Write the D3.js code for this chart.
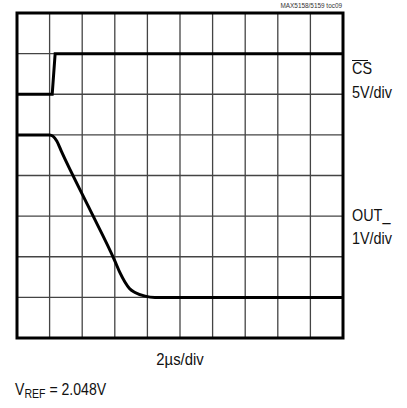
<!DOCTYPE html>
<html>
<head>
<meta charset="utf-8">
<script src="https://cdn.jsdelivr.net/npm/d3@7"></script>
<style>
  body { margin: 0; background: #fff; }
  svg text { font-family: "Liberation Sans", Arial, sans-serif; fill: #111; }
</style>
</head>
<body>
<div id="chart"></div>
<script>
// Scope grid: 10 horizontal divisions, 8 vertical divisions
const xDivs = d3.range(0, 11);
const yDivs = d3.range(0, 9);

// CS trace (time in div, level in div from bottom)
const csTime = [0, 1.08, 1.17, 10];
const csLevel = [6, 6, 7, 7];

// OUT_ trace
const outTime = [0, 1.0, 1.1, 1.22, 1.37, 2.2, 3.0, 3.15, 3.31, 3.45, 3.62, 3.93, 4.23, 10];
const outLevel = [5, 5, 4.97, 4.85, 4.58, 3.22, 1.9, 1.62, 1.38, 1.22, 1.12, 1.03, 1.0, 1.0];

const width = 407, height = 408;
const plot = { left: 17, top: 13, right: 343, bottom: 338 };

const svg = d3.select("#chart").append("svg")
  .attr("width", width)
  .attr("height", height);

const x = d3.scaleLinear().domain([0, 10]).range([plot.left, plot.right]);
const y = d3.scaleLinear().domain([0, 8]).range([plot.bottom, plot.top]);

// grid lines
svg.append("g")
  .selectAll("line")
  .data(xDivs.slice(1, -1))
  .join("line")
    .attr("x1", d => x(d)).attr("x2", d => x(d))
    .attr("y1", plot.top).attr("y2", plot.bottom)
    .attr("stroke", "#444")
    .attr("stroke-width", 1.3);

svg.append("g")
  .selectAll("line")
  .data(yDivs.slice(1, -1))
  .join("line")
    .attr("y1", d => y(d)).attr("y2", d => y(d))
    .attr("x1", plot.left).attr("x2", plot.right)
    .attr("stroke", "#444")
    .attr("stroke-width", 1.3);

// traces
const line = d3.line()
  .x(d => x(d[0]))
  .y(d => y(d[1]));

svg.append("path")
  .datum(d3.zip(csTime, csLevel))
  .attr("fill", "none")
  .attr("stroke", "#000")
  .attr("stroke-width", 3)
  .attr("d", line);

svg.append("path")
  .datum(d3.zip(outTime, outLevel))
  .attr("fill", "none")
  .attr("stroke", "#000")
  .attr("stroke-width", 3)
  .attr("stroke-linejoin", "round")
  .attr("d", line.curve(d3.curveMonotoneX));

// border
svg.append("rect")
  .attr("x", plot.left).attr("y", plot.top)
  .attr("width", plot.right - plot.left)
  .attr("height", plot.bottom - plot.top)
  .attr("fill", "none")
  .attr("stroke", "#000")
  .attr("stroke-width", 3);

// labels (horizontally squeezed to mimic the narrow font)
const label = (txt, lx, ly, size, sx, anchor) =>
  svg.append("text")
    .attr("transform", `translate(${lx},${ly}) scale(${sx},1)`)
    .attr("text-anchor", anchor || "start")
    .style("font-size", size + "px")
    .text(txt);

label("MAX5158/5159 toc09", plot.right - 1, 8, 8, 0.8, "end").style("fill", "#333");

label("CS", 352, 74, 16, 0.9);
svg.append("line")
  .attr("x1", 352).attr("x2", 368)
  .attr("y1", 60.5).attr("y2", 60.5)
  .attr("stroke", "#111").attr("stroke-width", 1);
label("5V/div", 352, 98, 16, 0.9);
label("OUT_", 352, 221, 16, 0.9);
label("1V/div", 352, 244, 16, 0.9);
label("2\u00B5s/div", (plot.left + plot.right) / 2, 365, 16, 0.93, "middle");

const vref = label("", 15, 395, 16, 0.88);
vref.append("tspan").text("V");
vref.append("tspan").attr("dy", 3).style("font-size", "12px").text("REF");
vref.append("tspan").attr("dy", -3).text(" = 2.048V");
</script>
</body>
</html>
